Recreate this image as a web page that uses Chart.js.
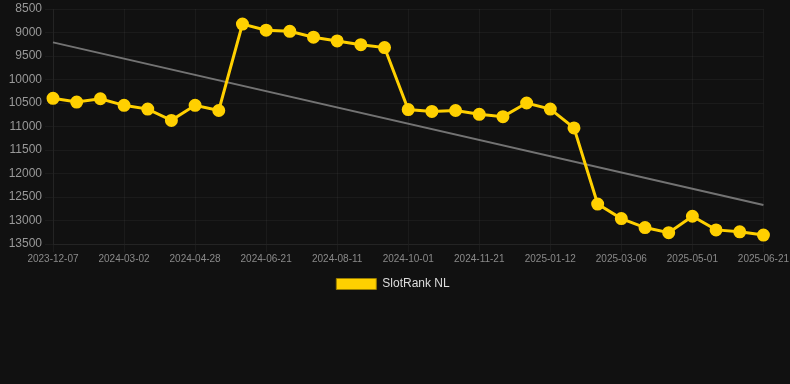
<!DOCTYPE html>
<html>
<head>
<meta charset="utf-8">
<script src="https://cdn.jsdelivr.net/npm/chart.js@4"></script>
<style>
  html, body { margin: 0; padding: 0; background: #111111; }
  #wrap { width: 790px; height: 300px; }
</style>
</head>
<body>
<div id="wrap"><canvas id="myChart"></canvas></div>
<script>
// dates - only every 3rd one is shown on the axis
const labels = [
  "2023-12-07", "2024-01-05", "2024-02-02", "2024-03-02", "2024-03-21", "2024-04-09",
  "2024-04-28", "2024-05-16", "2024-06-03", "2024-06-21", "2024-07-08", "2024-07-25",
  "2024-08-11", "2024-08-28", "2024-09-14", "2024-10-01", "2024-10-18", "2024-11-04",
  "2024-11-21", "2024-12-08", "2024-12-25", "2025-01-12", "2025-01-30", "2025-02-17",
  "2025-03-06", "2025-03-25", "2025-04-12", "2025-05-01", "2025-05-18", "2025-06-04",
  "2025-06-21"
]

// rank values
const rankNL = [
  10400, 10480, 10410, 10550, 10630, 10870, 10550, 10660, 8820, 8950,
  8975, 9100, 9180, 9260, 9320, 10640, 10680, 10660, 10740, 10790,
  10500, 10630, 11030, 12650, 12960, 13150, 13260, 12910, 13200, 13240,
  13310
]

// trend line end points
const trendStart = 9210
const trendEnd = 12670

const yTicks = [8500, 9000, 9500, 10000, 10500, 11000, 11500, 12000, 12500, 13000, 13500]

let trend = labels.map(function (d, i) {
  if (i === 0) return trendStart
  if (i === labels.length - 1) return trendEnd
  return null
})

const YELLOW = "#ffd000"
const GRID = "rgba(255,255,255,0.045)"

const ctx = document.getElementById("myChart").getContext("2d")
const chart = new Chart(ctx, {
  type: "line",
  data: {
    labels: labels,
    datasets: [{
      label: "SlotRank NL",
      data: rankNL,
      borderColor: YELLOW,
      backgroundColor: YELLOW,
      borderWidth: 3,
      pointRadius: 5,
      pointHoverRadius: 6,
      pointBackgroundColor: YELLOW,
      pointBorderColor: YELLOW,
      tension: 0
    }, {
      label: "trend",
      data: trend,
      borderColor: "rgba(140,140,140,0.8)",
      borderWidth: 2,
      pointRadius: 0,
      spanGaps: true,
      fill: false
    }]
  },
  options: {
    responsive: true,
    maintainAspectRatio: false,
    animation: false,
    layout: { padding: { right: 4 } },
    plugins: {
      legend: {
        position: "bottom",
        labels: {
          color: "#dddddd",
          padding: 12,
          font: { family: "Liberation Sans, Arial", size: 12 },
          boxWidth: 40,
          boxHeight: 11,
          generateLabels: function (chart) {
            let items = Chart.defaults.plugins.legend.labels.generateLabels(chart)
            items = items.filter(function (item) { return item.text !== "trend" })
            items.forEach(function (item) {
              item.lineWidth = 1
              item.strokeStyle = "#9a7e00"
            })
            return items
          }
        }
      },
      tooltip: { enabled: false }
    },
    scales: {
      x: {
        grid: { color: GRID },
        border: { color: GRID },
        ticks: {
          color: "#8a8a8a",
          padding: 1,
          font: { family: "Liberation Sans, Arial", size: 10 },
          autoSkip: false,
          maxRotation: 0,
          callback: function (val, index) {
            return index % 3 === 0 ? labels[index] : null
          }
        }
      },
      y: {
        reverse: true,
        min: yTicks[0],
        max: yTicks[yTicks.length - 1],
        grid: { color: GRID },
        border: { color: GRID },
        afterBuildTicks: function (axis) {
          axis.ticks = yTicks.map(function (v) { return { value: v } })
        },
        afterFit: function (axis) {
          axis.width = 53
          axis.paddingTop = 4
        },
        ticks: {
          color: "#999999",
          font: { family: "Liberation Sans, Arial", size: 12 },
          callback: function (v) { return String(v) }
        }
      }
    }
  }
})
</script>
</body>
</html>
